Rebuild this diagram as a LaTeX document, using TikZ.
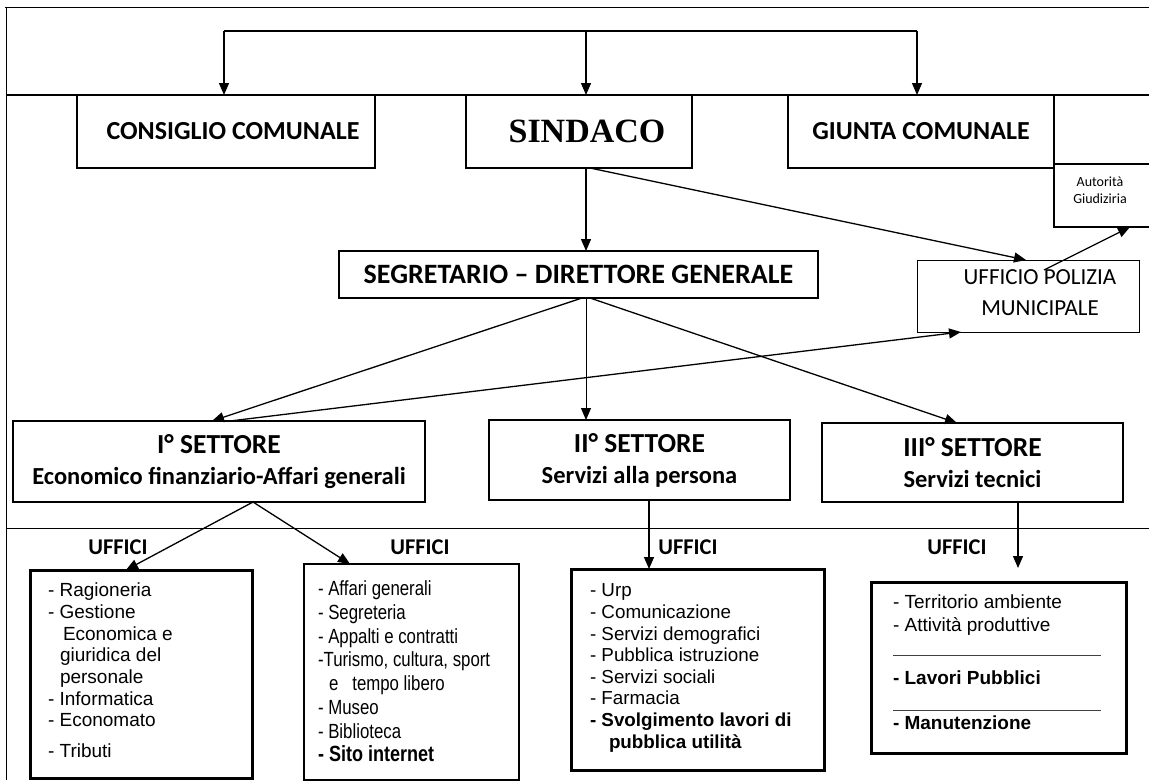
\documentclass[tikz,border=0pt]{standalone}
\usepackage{fontspec}
\setmainfont{Liberation Sans}
\newfontfamily\calfont{Carlito}
\newfontfamily\tmsfont{Liberation Serif}
\newfontfamily\narrowfont[FakeStretch=0.82]{Liberation Sans}
\usetikzlibrary{arrows.meta}
\tikzset{
  bx/.style={draw, rectangle, line width=1.2pt, inner sep=0pt, outer sep=0pt, align=center},
  arr/.style={-{Triangle[length=12pt,width=10pt]}, line width=1.3pt},
  txt/.style={inner sep=0pt, outer sep=0pt, align=left},
  hd/.style={font=\calfont\bfseries\fontsize{26}{30}\selectfont},
  sect/.style={bx, line width=1.5pt, font=\calfont\bfseries\fontsize{24.5}{31}\selectfont},
  uff/.style={inner sep=0pt, font=\calfont\bfseries\fontsize{22.5}{24}\selectfont},
  list/.style={bx, line width=3pt},
}
\begin{document}
\begin{tikzpicture}[x=1pt,y=-1pt]
\useasboundingbox (0,0) rectangle (1149,780);
\fill[white] (0,0) rectangle (1149,780);
% frame lines
\draw[line width=1pt] (5,7) -- (1149,7);
\draw[line width=1pt] (6,7) -- (6,780);
\draw[line width=1.3pt] (6,95) -- (1149,95);
\draw[line width=1pt] (6,528) -- (1149,528);

% top row
\node[bx, hd, minimum width=298pt, minimum height=73pt] (cons) at (226,131.5) {\hspace*{14pt}CONSIGLIO COMUNALE};
\node[bx, minimum width=226pt, minimum height=73pt, font=\tmsfont\bfseries\fontsize{34}{38}\selectfont] (sind) at (579,131.5) {\hspace*{16pt}SINDACO};
\node[bx, hd, minimum width=266pt, minimum height=73pt] (giun) at (921,131.5) {GIUNTA COMUNALE};
\node[bx, minimum width=98pt, minimum height=69pt] (rbox) at (1103,129.5) {};
\node[bx, line width=1.6pt, minimum width=98pt, minimum height=63pt] (auto) at (1103,195.5) {};
\node[inner sep=0pt, align=center, font=\calfont\fontsize{14}{17}\selectfont] (autotxt) at (1100,190) {Autorità\\Giudiziria};

% bracket
\coordinate (bl) at (224,31);
\coordinate (bm) at (586,31);
\coordinate (br) at (917,31);
\draw[line width=1.2pt] (bl) -- (br);
\draw[arr] (bl) -- (bl |- cons.north);
\draw[arr] (bm) -- (bm |- sind.north);
\draw[arr] (br) -- (br |- giun.north);

% segretario and polizia
\node[bx, line width=2.2pt, minimum width=479pt, minimum height=47pt, font=\calfont\bfseries\fontsize{28}{32}\selectfont] (segr) at (578.5,274.5) {SEGRETARIO – DIRETTORE GENERALE};
\node[bx, line width=1pt, minimum width=222pt, minimum height=72pt] (poli) at (1028,296) {};
\node[inner sep=0pt, align=center, font=\calfont\fontsize{23}{31}\selectfont] (politxt) at (1040,292.5) {UFFICIO POLIZIA\\MUNICIPALE};

% settori
\node[sect, minimum width=412pt, minimum height=81pt] (s1) at (219,461.5) {{\fontsize{27.5}{31}\selectfont I° SETTORE}\\Economico finanziario-Affari generali};
\node[sect, minimum width=301pt, minimum height=80pt] (s2) at (639.5,460) {{\fontsize{27.5}{31}\selectfont II° SETTORE}\\Servizi alla persona};
\node[sect, minimum width=301pt, minimum height=79pt] (s3) at (972.5,462.5) {{\fontsize{27.5}{31}\selectfont III° SETTORE}\\Servizi tecnici};

% connectors
\draw[arr] ([xshift=7pt]sind.south) -- ([xshift=7.5pt]segr.north);
\draw[arr] ([xshift=11pt]sind.south) -- ([xshift=-2pt]poli.north);
\draw[arr] ([xshift=16pt,yshift=-10pt]poli.north) -- ([xshift=27pt]auto.south);
\draw[arr] ([xshift=3.5pt]segr.south) -- ([xshift=-7pt]s1.north);
\draw[arr, line width=0.8pt] ([xshift=7.5pt]segr.south) -- ([xshift=-53.5pt]s2.north);
\draw[arr] ([xshift=11.5pt]segr.south) -- ([xshift=-15.5pt]s3.north);
\draw[arr] ([xshift=11pt]s1.north) -- ([xshift=-67pt]poli.south);

% uffici labels
\node[uff] (u1) at (118,547) {UFFICI};
\node[uff] (u2) at (420,547) {UFFICI};
\node[uff] (u3) at (688,547) {UFFICI};
\node[uff] (u4) at (957,547) {UFFICI};

% list boxes
\node[list, minimum width=222pt, minimum height=208pt] (b1) at (141,674) {};
\node[list, line width=2pt, minimum width=215pt, minimum height=216pt] (b2) at (411,672) {};
\node[list, minimum width=253pt, minimum height=201pt] (b3) at (697.5,669.5) {};
\node[list, minimum width=255pt, minimum height=171pt] (b4) at (998.5,667.5) {};

\draw[arr] ([xshift=34pt]s1.south) -- ([xshift=-15pt]b1.north);
\draw[arr] ([xshift=34pt]s1.south) -- ([xshift=-61pt]b2.north);
\draw[arr] ([xshift=9.5pt]s2.south) -- ([xshift=-48.5pt]b3.north);
\draw[arr, shorten >=14pt] ([xshift=45.5pt]s3.south) -- ([xshift=19.5pt]b4.north);

% list texts
\node[txt, anchor=north west, font=\fontsize{19}{21.7}\selectfont] (t1) at (48,583)
  {- Ragioneria\\- Gestione\\\hspace*{15pt}Economica e\\\hspace*{12pt}giuridica del\\\hspace*{12pt}personale\\- Informatica\\- Economato\\[9pt]- Tributi};
\node[txt, anchor=north west, font=\narrowfont\fontsize{20.5}{23.7}\selectfont] (t2) at (318,581)
  {- Affari generali\\- Segreteria\\- Appalti e contratti\\-Turismo, cultura, sport\\\hspace*{11pt}e\hspace*{14pt}tempo libero\\- Museo\\- Biblioteca\\{\bfseries\fontsize{22}{23.7}\selectfont - Sito internet}};
\node[txt, anchor=north west, font=\fontsize{18.8}{21.6}\selectfont] (t3) at (590,584)
  {- Urp\\- Comunicazione\\- Servizi demografici\\- Pubblica istruzione\\- Servizi sociali\\- Farmacia\\\textbf{- Svolgimento lavori di}\\\hspace*{19pt}\textbf{pubblica utilità}};
\node[txt, anchor=north west, font=\fontsize{19}{23}\selectfont] (t4a) at (893,595)
  {- Territorio ambiente\\- Attività produttive};
\node[txt, anchor=west, font=\bfseries\fontsize{19}{22}\selectfont] (t4b) at (893,678) {- Lavori Pubblici};
\node[txt, anchor=west, font=\bfseries\fontsize{19}{22}\selectfont] (t4c) at (893,723) {- Manutenzione};
\draw[line width=0.7pt, black!75] (893,655) -- (1101,655);
\draw[line width=0.7pt, black!75] (893,710) -- (1101,710);
\end{tikzpicture}
\end{document}
